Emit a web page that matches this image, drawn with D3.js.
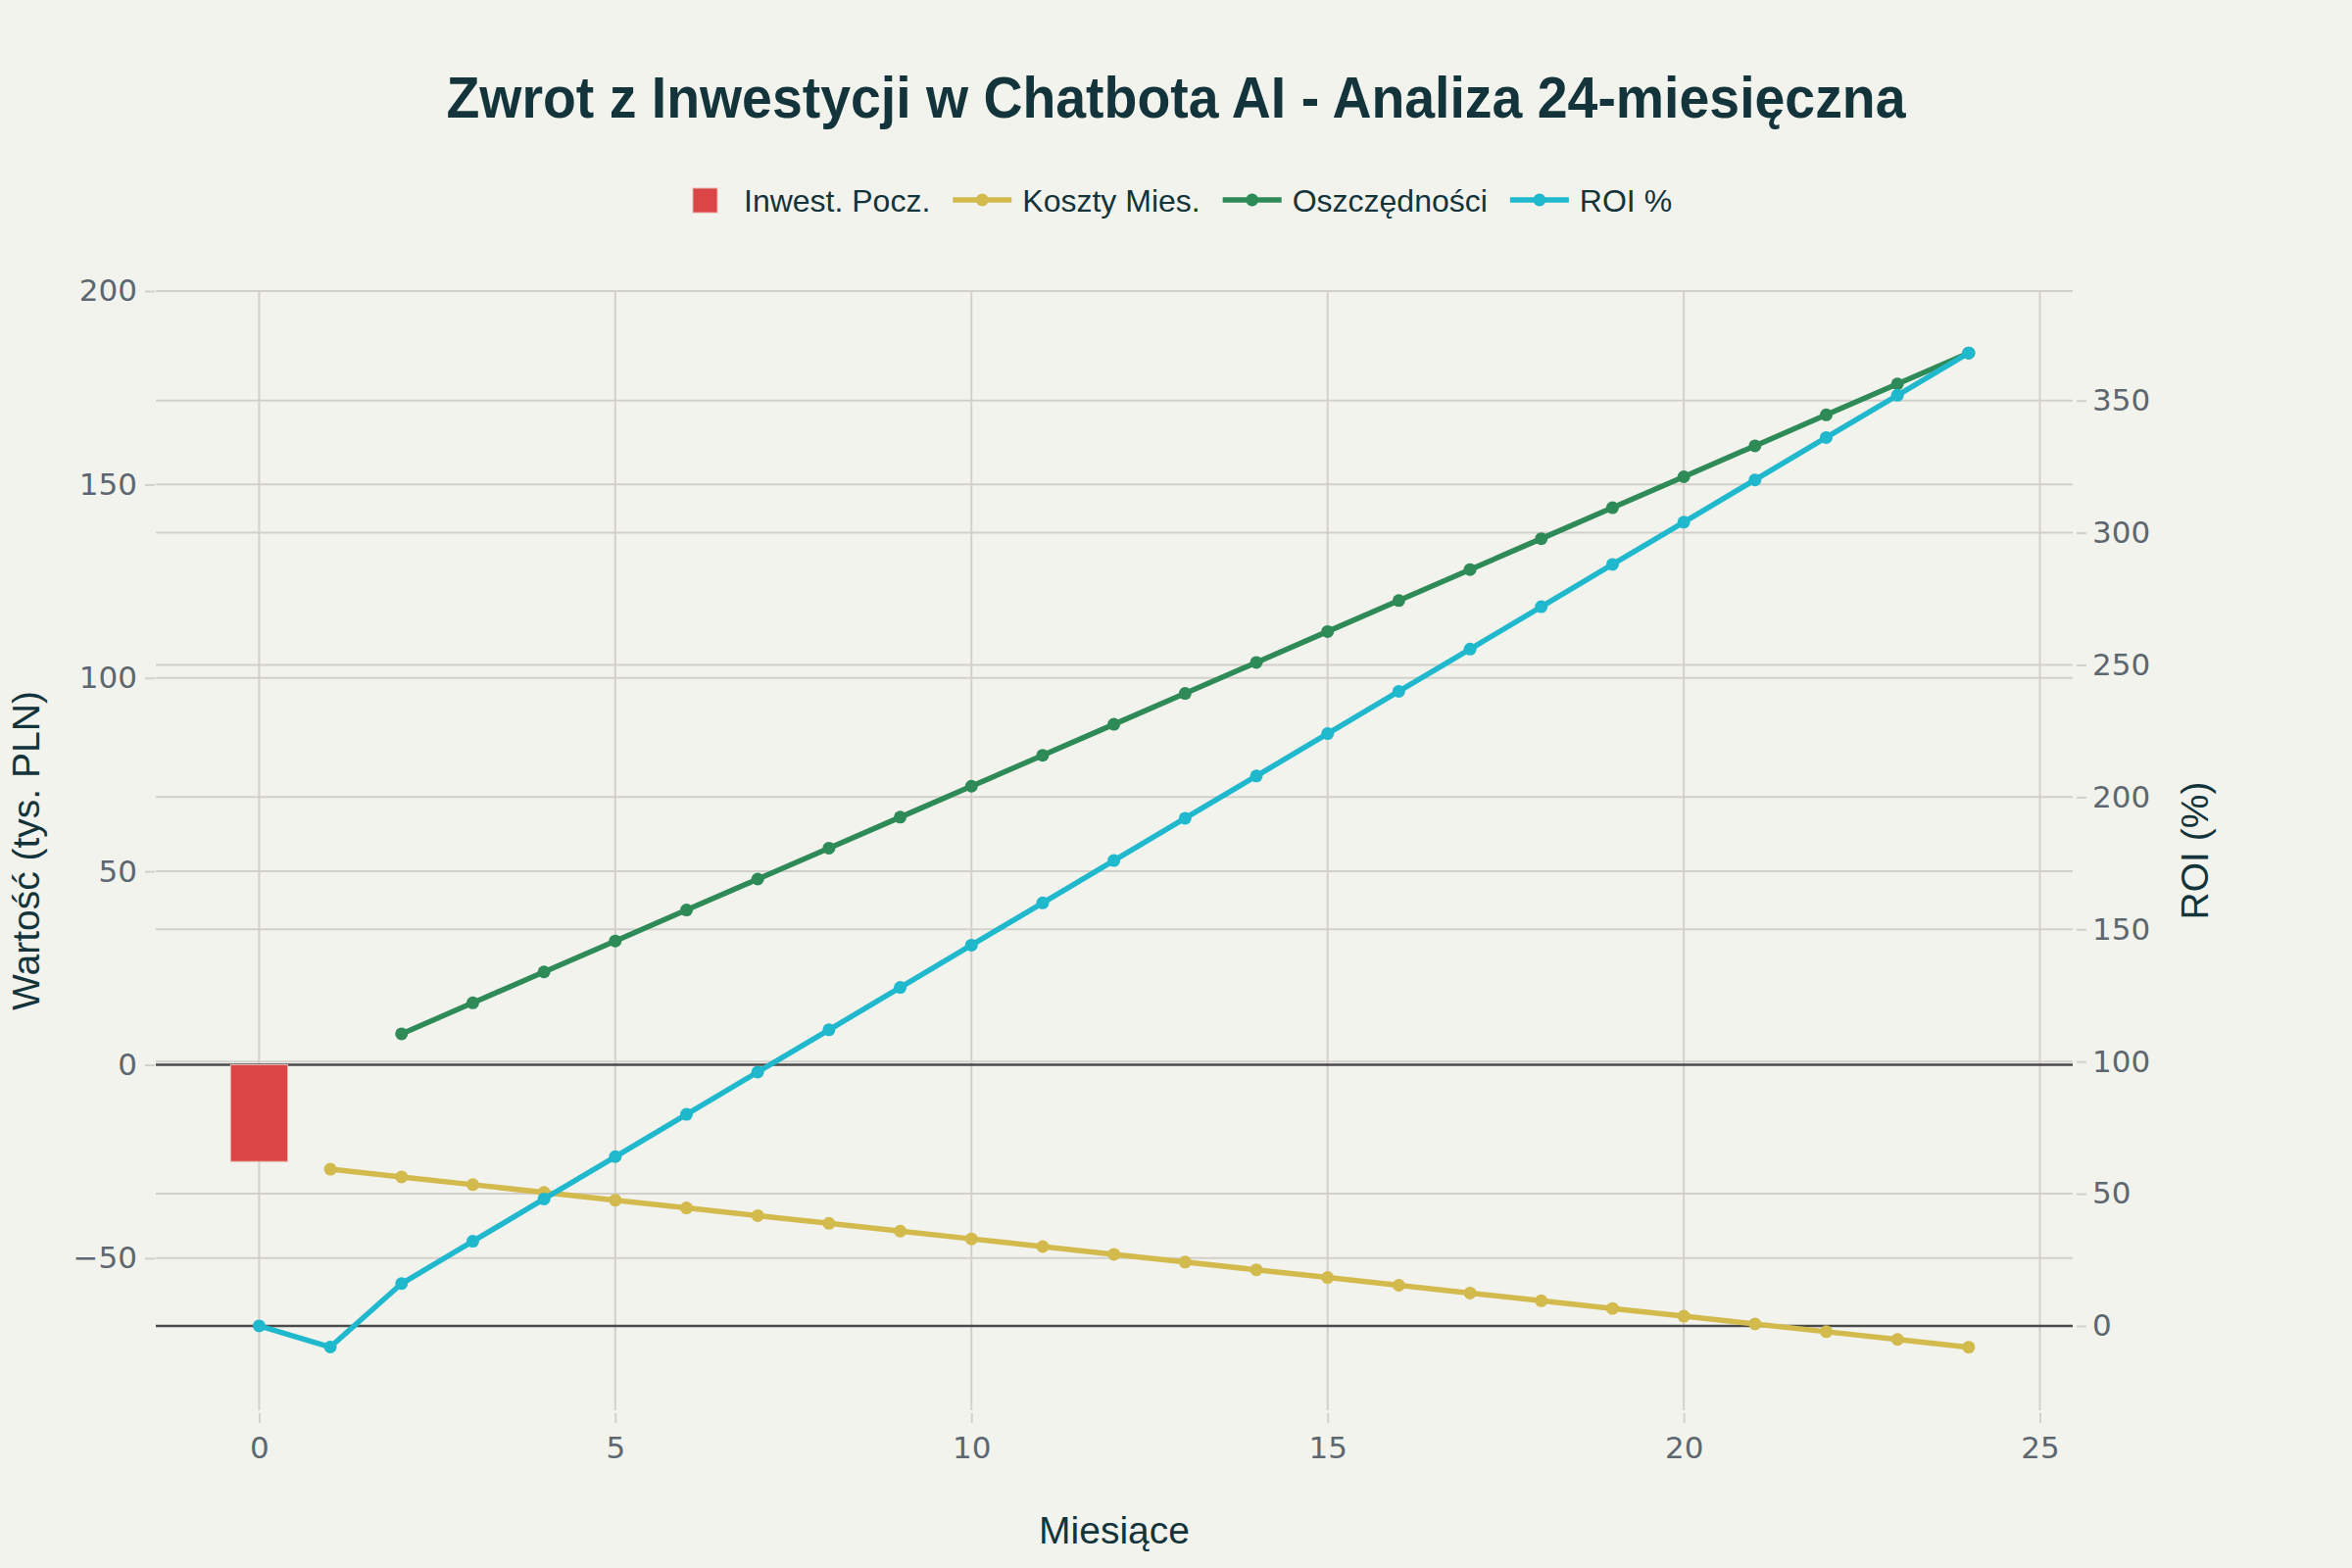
<!DOCTYPE html>
<html>
<head>
<meta charset="utf-8">
<script src="https://cdn.jsdelivr.net/npm/d3@7"></script>
<style>
  html, body { margin: 0; padding: 0; background: #F3F3EE; }
  #chart { width: 2400px; height: 1600px; }
</style>
</head>
<body>
<div id="chart"></div>
<script>
// dane (tys. PLN / %)
const investMonths = [0];
const investValues = [-25];

const costMonths = [1, 2, 3, 4, 5, 6, 7, 8, 9, 10, 11, 12, 13, 14, 15, 16, 17, 18, 19, 20, 21, 22, 23, 24];
const costValues = [-27, -29, -31, -33, -35, -37, -39, -41, -43, -45, -47, -49, -51, -53, -55, -57, -59, -61, -63, -65, -67, -69, -71, -73];

const savingMonths = [2, 3, 4, 5, 6, 7, 8, 9, 10, 11, 12, 13, 14, 15, 16, 17, 18, 19, 20, 21, 22, 23, 24];
const savingValues = [8, 16, 24, 32, 40, 48, 56, 64, 72, 80, 88, 96, 104, 112, 120, 128, 136, 144, 152, 160, 168, 176, 184];

const roiMonths = [0, 1, 2, 3, 4, 5, 6, 7, 8, 9, 10, 11, 12, 13, 14, 15, 16, 17, 18, 19, 20, 21, 22, 23, 24];
const roiValues = [0, -8, 16, 32, 48, 64, 80, 96, 112, 128, 144, 160, 176, 192, 208, 224, 240, 256, 272, 288, 304, 320, 336, 352, 368];

const xTicks = [0, 5, 10, 15, 20, 25];
const yLeftTicks = [-50, 0, 50, 100, 150, 200];
const yRightTicks = [0, 50, 100, 150, 200, 250, 300, 350];

const legendNames = ['Inwest. Pocz.', 'Koszty Mies.', 'Oszczędności', 'ROI %'];

function drawChart() {
  const W = 2400, H = 1600;
  const m = { top: 297, right: 285, bottom: 161, left: 159 };
  const w = W - m.left - m.right, h = H - m.top - m.bottom;

  const C = { bg: '#F3F3EE', title: '#13343B', tick: '#5D6770', grid: '#D3D0CB', zero: '#4A4A4A',
    red: '#DB4545', yellow: '#D2BA4C', green: '#2E8B57', cyan: '#1FB8CD' };
  const SANS = '"Liberation Sans", Arial, sans-serif';
  const TICKF = '"DejaVu Sans", sans-serif';

  const svg = d3.select('#chart').append('svg')
    .attr('width', W).attr('height', H)
    .attr('viewBox', `0 0 ${W} ${H}`);
  svg.append('rect').attr('width', W).attr('height', H).attr('fill', C.bg);

  const g = svg.append('g').attr('transform', `translate(${m.left},${m.top})`);

  const x = d3.scaleLinear().domain([-1.45, 25.46]).range([0, w]);
  const yL = d3.scaleLinear().domain([-89.3, 200]).range([h, 0]);
  const yR = d3.scaleLinear().domain([-31.9, 391.4]).range([h, 0]);

  // Siatka
  g.selectAll('.gx').data(xTicks).join('line')
    .attr('x1', d => x(d)).attr('x2', d => x(d)).attr('y1', 0).attr('y2', h)
    .attr('stroke', C.grid).attr('stroke-width', 2);
  g.selectAll('.gyr').data(yRightTicks.filter(d => d !== 0)).join('line')
    .attr('x1', 0).attr('x2', w).attr('y1', d => yR(d)).attr('y2', d => yR(d))
    .attr('stroke', C.grid).attr('stroke-width', 2);
  g.selectAll('.gyl').data(yLeftTicks.filter(d => d !== 0)).join('line')
    .attr('x1', 0).attr('x2', w).attr('y1', d => yL(d)).attr('y2', d => yL(d))
    .attr('stroke', C.grid).attr('stroke-width', 2);

  // Linie zerowe
  [yL(0), yR(0)].forEach(yy => {
    g.append('line').attr('x1', 0).attr('x2', w).attr('y1', yy).attr('y2', yy)
      .attr('stroke', C.zero).attr('stroke-width', 2.5);
  });

  // Oś X
  g.append('g').attr('transform', `translate(0,${h + 3})`)
    .call(d3.axisBottom(x).tickValues(xTicks).tickSize(10).tickPadding(14).tickFormat(d3.format('d')))
    .call(a => a.select('.domain').remove())
    .call(a => a.selectAll('.tick line').attr('stroke', C.grid).attr('stroke-width', 2))
    .selectAll('text').attr('fill', C.tick).style('font-family', TICKF).style('font-size', '31px');

  // Oś lewa
  g.append('g').attr('transform', 'translate(-1,0)')
    .call(d3.axisLeft(yL).tickValues(yLeftTicks).tickSize(10).tickPadding(8).tickFormat(d => d < 0 ? '\u2212' + Math.abs(d) : d))
    .call(a => a.select('.domain').remove())
    .call(a => a.selectAll('.tick line').attr('stroke', C.grid).attr('stroke-width', 2))
    .selectAll('text').attr('fill', C.tick).style('font-family', TICKF).style('font-size', '31px');

  // Oś prawa
  g.append('g').attr('transform', `translate(${w + 4},0)`)
    .call(d3.axisRight(yR).tickValues(yRightTicks).tickSize(10).tickPadding(6))
    .call(a => a.select('.domain').remove())
    .call(a => a.selectAll('.tick line').attr('stroke', C.grid).attr('stroke-width', 2))
    .selectAll('text').attr('fill', C.tick).style('font-family', TICKF).style('font-size', '31px');

  // Słupek inwestycji
  const bw = x(0.4) - x(-0.4);
  g.selectAll('.bar').data(investMonths.map((d, i) => ({ m: d, v: investValues[i] }))).join('rect')
    .attr('x', d => x(d.m) - bw / 2).attr('width', bw)
    .attr('y', d => yL(Math.max(0, d.v))).attr('height', d => Math.abs(yL(d.v) - yL(0)))
    .attr('fill', C.red).attr('stroke', '#E9B3AE').attr('stroke-width', 1);

  // Serie liniowe
  const series = [
    { months: costMonths, values: costValues, y: yL, color: C.yellow },
    { months: savingMonths, values: savingValues, y: yL, color: C.green },
    { months: roiMonths, values: roiValues, y: yR, color: C.cyan }
  ];
  series.forEach(s => {
    const pts = s.months.map((d, i) => ({ m: d, v: s.values[i] }));
    const line = d3.line().x(d => x(d.m)).y(d => s.y(d.v));
    g.append('path').datum(pts).attr('d', line)
      .attr('fill', 'none').attr('stroke', s.color).attr('stroke-width', 5.5)
      .attr('stroke-linejoin', 'round');
    g.append('g').selectAll('circle').data(pts).join('circle')
      .attr('cx', d => x(d.m)).attr('cy', d => s.y(d.v))
      .attr('r', 6.5).attr('fill', s.color);
  });

  // Tytuł
  svg.append('text').attr('x', W / 2).attr('y', 120)
    .attr('text-anchor', 'middle').attr('fill', C.title)
    .style('font-family', SANS).style('font-weight', 700).style('font-size', '60px')
    .attr('textLength', 1489).attr('lengthAdjust', 'spacingAndGlyphs')
    .text('Zwrot z Inwestycji w Chatbota AI - Analiza 24-miesięczna');

  // Legenda
  const lg = svg.append('g').attr('transform', 'translate(707,0)');
  const legendColors = [C.red, C.yellow, C.green, C.cyan];
  let lx = 0;
  legendNames.forEach((name, i) => {
    const item = lg.append('g').attr('transform', `translate(${lx},0)`);
    let tx;
    if (i === 0) {
      item.append('rect').attr('x', 0).attr('y', 192).attr('width', 25).attr('height', 25)
        .attr('fill', legendColors[i]).attr('stroke', '#E9B3AE').attr('stroke-width', 1);
      tx = 52;
    } else {
      item.append('line').attr('x1', 0).attr('x2', 60).attr('y1', 204).attr('y2', 204)
        .attr('stroke', legendColors[i]).attr('stroke-width', 5.5);
      item.append('circle').attr('cx', 30).attr('cy', 204).attr('r', 6.5).attr('fill', legendColors[i]);
      tx = 71;
    }
    const t = item.append('text').attr('x', tx).attr('y', 216)
      .attr('fill', C.title).style('font-family', SANS).style('font-size', '32px').text(name);
    lx += tx + t.node().getComputedTextLength() + 23;
  });

  // Tytuły osi
  svg.append('text').attr('x', m.left + w / 2).attr('y', 1575)
    .attr('text-anchor', 'middle').attr('fill', C.title)
    .style('font-family', SANS).style('font-size', '39px').text('Miesiące');
  svg.append('text').attr('transform', `translate(40,${m.top + h / 2}) rotate(-90)`)
    .attr('text-anchor', 'middle').attr('fill', C.title)
    .style('font-family', SANS).style('font-size', '39px').text('Wartość (tys. PLN)');
  svg.append('text').attr('transform', `translate(2253,${m.top + h / 2}) rotate(-90)`)
    .attr('text-anchor', 'middle').attr('fill', C.title)
    .style('font-family', SANS).style('font-size', '39px').text('ROI (%)');
}

drawChart();
</script>
</body>
</html>
